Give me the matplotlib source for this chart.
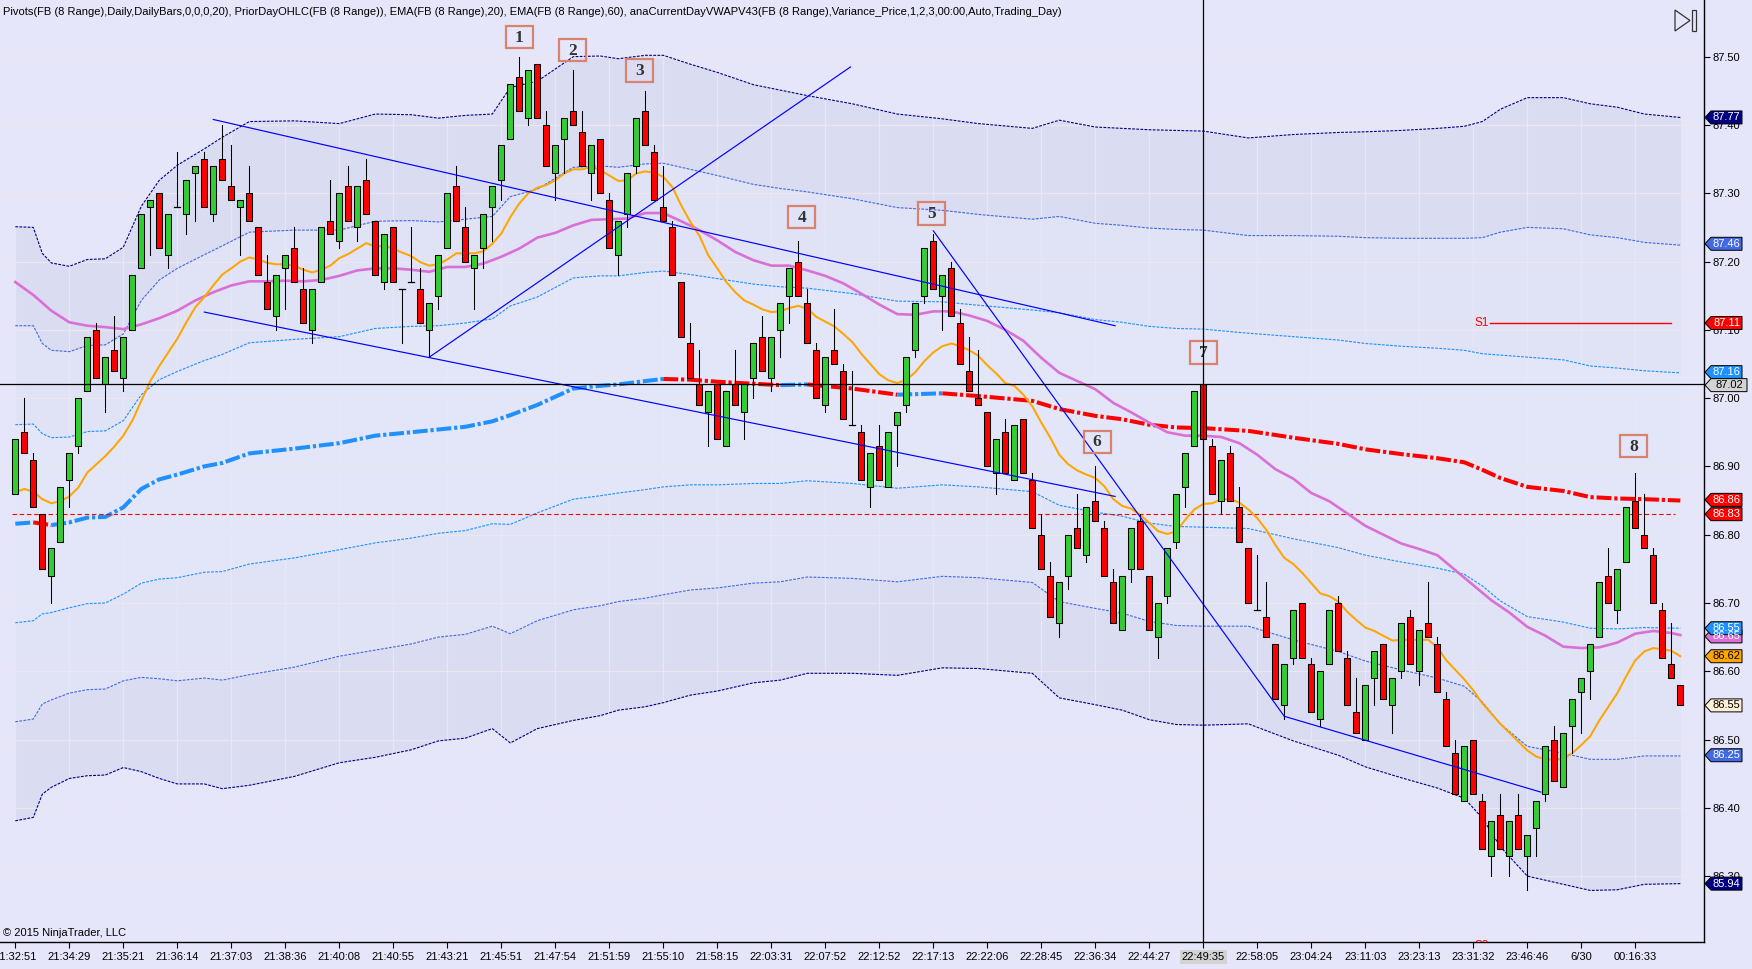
import matplotlib
matplotlib.use('Agg')
import matplotlib.pyplot as plt
from matplotlib.patches import Polygon, Rectangle
from matplotlib.transforms import blended_transform_factory

plt.rcParams['font.family'] = ['Liberation Sans', 'DejaVu Sans']

# ---- range bars (FB 8 Range) ----
OPEN = [86.86, 86.95, 86.91, 86.83, 86.74, 86.79, 86.88, 86.93, 87.01, 87.10,
        87.02, 87.07, 87.03, 87.10, 87.19, 87.28, 87.30, 87.21, 87.28, 87.27,
        87.33, 87.35, 87.27, 87.35, 87.31, 87.28, 87.30, 87.25, 87.17, 87.12,
        87.19, 87.22, 87.16, 87.10, 87.17, 87.26, 87.23, 87.31, 87.25, 87.32,
        87.26, 87.17, 87.25, 87.16, 87.17, 87.16, 87.10, 87.15, 87.22, 87.31,
        87.25, 87.19, 87.22, 87.28, 87.32, 87.38, 87.47, 87.41, 87.49, 87.40,
        87.33, 87.38, 87.42, 87.39, 87.33, 87.38, 87.29, 87.21, 87.27, 87.34,
        87.42, 87.36, 87.28, 87.25, 87.17, 87.08, 87.02, 86.98, 87.02, 86.93,
        87.02, 86.98, 87.03, 87.09, 87.03, 87.10, 87.15, 87.20, 87.14, 87.07,
        86.99, 87.07, 87.04, 86.96, 86.95, 86.87, 86.93, 86.87, 86.96, 86.99,
        87.07, 87.15, 87.23, 87.15, 87.19, 87.11, 87.04, 87.00, 86.98, 86.89,
        86.95, 86.88, 86.97, 86.88, 86.80, 86.74, 86.67, 86.74, 86.81, 86.77,
        86.85, 86.81, 86.73, 86.66, 86.75, 86.82, 86.74, 86.65, 86.71, 86.79,
        86.87, 86.93, 87.02, 86.93, 86.85, 86.92, 86.84, 86.78, 86.69, 86.68,
        86.64, 86.55, 86.62, 86.70, 86.61, 86.53, 86.61, 86.70, 86.62, 86.54,
        86.50, 86.59, 86.64, 86.55, 86.60, 86.68, 86.60, 86.67, 86.64, 86.56,
        86.48, 86.41, 86.50, 86.41, 86.33, 86.39, 86.33, 86.39, 86.33, 86.37,
        86.42, 86.50, 86.43, 86.52, 86.57, 86.60, 86.65, 86.74, 86.69, 86.76,
        86.85, 86.80, 86.77, 86.69, 86.61, 86.58]
HIGH = [86.94, 87.00, 86.92, 86.83, 86.78, 86.87, 86.92, 87.00, 87.09, 87.11,
        87.06, 87.12, 87.09, 87.18, 87.27, 87.29, 87.30, 87.27, 87.36, 87.32,
        87.34, 87.36, 87.34, 87.40, 87.37, 87.29, 87.34, 87.25, 87.21, 87.18,
        87.21, 87.25, 87.19, 87.16, 87.25, 87.32, 87.30, 87.34, 87.31, 87.35,
        87.26, 87.24, 87.25, 87.16, 87.25, 87.19, 87.14, 87.21, 87.30, 87.34,
        87.28, 87.21, 87.27, 87.31, 87.37, 87.46, 87.50, 87.48, 87.49, 87.42,
        87.37, 87.41, 87.48, 87.42, 87.37, 87.38, 87.30, 87.26, 87.33, 87.41,
        87.45, 87.37, 87.34, 87.26, 87.17, 87.11, 87.07, 87.01, 87.02, 87.01,
        87.07, 87.02, 87.08, 87.12, 87.09, 87.14, 87.19, 87.23, 87.16, 87.08,
        87.06, 87.13, 87.05, 87.04, 86.96, 86.92, 86.96, 86.95, 86.98, 87.06,
        87.14, 87.22, 87.24, 87.18, 87.20, 87.13, 87.09, 87.07, 86.98, 86.94,
        86.97, 86.96, 86.97, 86.89, 86.83, 86.76, 86.73, 86.80, 86.86, 86.84,
        86.90, 86.82, 86.75, 86.74, 86.81, 86.83, 86.74, 86.70, 86.78, 86.86,
        86.92, 87.01, 87.02, 86.94, 86.91, 86.93, 86.87, 86.78, 86.77, 86.73,
        86.64, 86.61, 86.69, 86.70, 86.62, 86.60, 86.69, 86.71, 86.63, 86.59,
        86.58, 86.63, 86.64, 86.59, 86.67, 86.69, 86.66, 86.73, 86.65, 86.57,
        86.50, 86.49, 86.50, 86.42, 86.38, 86.42, 86.38, 86.42, 86.36, 86.41,
        86.49, 86.52, 86.51, 86.56, 86.59, 86.64, 86.73, 86.78, 86.75, 86.84,
        86.89, 86.86, 86.78, 86.70, 86.67, 86.58]
LOW = [86.86, 86.92, 86.84, 86.75, 86.70, 86.79, 86.84, 86.92, 87.01, 87.03,
       86.98, 87.04, 87.01, 87.10, 87.19, 87.21, 87.22, 87.19, 87.28, 87.24,
       87.26, 87.28, 87.26, 87.32, 87.29, 87.21, 87.26, 87.18, 87.13, 87.10,
       87.13, 87.17, 87.11, 87.08, 87.17, 87.24, 87.22, 87.26, 87.23, 87.27,
       87.18, 87.16, 87.17, 87.08, 87.17, 87.11, 87.06, 87.13, 87.22, 87.26,
       87.20, 87.13, 87.19, 87.23, 87.29, 87.38, 87.42, 87.40, 87.41, 87.34,
       87.29, 87.33, 87.40, 87.34, 87.29, 87.30, 87.22, 87.18, 87.25, 87.33,
       87.37, 87.29, 87.26, 87.18, 87.09, 87.03, 86.99, 86.93, 86.94, 86.93,
       86.99, 86.94, 87.00, 87.04, 87.01, 87.06, 87.11, 87.15, 87.08, 87.00,
       86.98, 87.05, 86.97, 86.96, 86.88, 86.84, 86.88, 86.87, 86.90, 86.98,
       87.06, 87.14, 87.16, 87.10, 87.12, 87.05, 87.01, 86.99, 86.90, 86.86,
       86.89, 86.88, 86.89, 86.81, 86.75, 86.68, 86.65, 86.72, 86.78, 86.76,
       86.82, 86.74, 86.67, 86.66, 86.73, 86.75, 86.66, 86.62, 86.70, 86.78,
       86.84, 86.93, 86.94, 86.86, 86.83, 86.85, 86.79, 86.70, 86.69, 86.65,
       86.56, 86.53, 86.61, 86.62, 86.54, 86.52, 86.61, 86.63, 86.55, 86.51,
       86.50, 86.55, 86.56, 86.51, 86.59, 86.61, 86.58, 86.65, 86.57, 86.49,
       86.42, 86.41, 86.42, 86.34, 86.30, 86.34, 86.30, 86.34, 86.28, 86.33,
       86.41, 86.44, 86.43, 86.48, 86.51, 86.56, 86.65, 86.70, 86.67, 86.76,
       86.81, 86.78, 86.70, 86.62, 86.59, 86.55]
CLOSE = [86.94, 86.92, 86.84, 86.75, 86.78, 86.87, 86.92, 87.00, 87.09, 87.03,
         87.06, 87.04, 87.09, 87.18, 87.27, 87.29, 87.22, 87.27, 87.28, 87.32,
         87.34, 87.28, 87.34, 87.32, 87.29, 87.29, 87.26, 87.18, 87.13, 87.18,
         87.21, 87.17, 87.11, 87.16, 87.25, 87.24, 87.30, 87.26, 87.31, 87.27,
         87.18, 87.24, 87.17, 87.16, 87.17, 87.11, 87.14, 87.21, 87.30, 87.26,
         87.20, 87.21, 87.27, 87.31, 87.37, 87.46, 87.42, 87.48, 87.41, 87.34,
         87.37, 87.41, 87.40, 87.34, 87.37, 87.30, 87.22, 87.26, 87.33, 87.41,
         87.37, 87.29, 87.26, 87.18, 87.09, 87.03, 86.99, 87.01, 86.94, 87.01,
         86.99, 87.02, 87.08, 87.04, 87.09, 87.14, 87.19, 87.15, 87.08, 87.00,
         87.06, 87.05, 86.97, 86.96, 86.88, 86.92, 86.88, 86.95, 86.98, 87.06,
         87.14, 87.22, 87.16, 87.18, 87.12, 87.05, 87.01, 86.99, 86.90, 86.94,
         86.89, 86.96, 86.89, 86.81, 86.75, 86.68, 86.73, 86.80, 86.78, 86.84,
         86.82, 86.74, 86.67, 86.74, 86.81, 86.75, 86.66, 86.70, 86.78, 86.86,
         86.92, 87.01, 86.94, 86.86, 86.91, 86.85, 86.79, 86.70, 86.69, 86.65,
         86.56, 86.61, 86.69, 86.62, 86.54, 86.60, 86.69, 86.63, 86.55, 86.51,
         86.58, 86.63, 86.56, 86.59, 86.67, 86.61, 86.66, 86.65, 86.57, 86.49,
         86.42, 86.49, 86.42, 86.34, 86.38, 86.34, 86.38, 86.34, 86.36, 86.41,
         86.49, 86.44, 86.51, 86.56, 86.59, 86.64, 86.73, 86.70, 86.75, 86.84,
         86.81, 86.78, 86.70, 86.62, 86.59, 86.55]

# EMA(20), one value per bar
EMA20 = [86.862, 86.867, 86.863, 86.852, 86.846, 86.849, 86.856, 86.869, 86.891, 86.903,
         86.915, 86.929, 86.945, 86.967, 86.996, 87.025, 87.047, 87.067, 87.087, 87.111,
         87.133, 87.148, 87.165, 87.181, 87.190, 87.200, 87.206, 87.203, 87.198, 87.196,
         87.196, 87.194, 87.188, 87.184, 87.188, 87.194, 87.205, 87.211, 87.219, 87.227,
         87.222, 87.223, 87.219, 87.213, 87.208, 87.199, 87.194, 87.196, 87.203, 87.212,
         87.212, 87.212, 87.215, 87.226, 87.241, 87.265, 87.285, 87.300, 87.308, 87.312,
         87.319, 87.329, 87.335, 87.335, 87.339, 87.334, 87.326, 87.318, 87.319, 87.329,
         87.332, 87.330, 87.324, 87.309, 87.282, 87.258, 87.238, 87.209, 87.190, 87.170,
         87.155, 87.143, 87.137, 87.130, 87.126, 87.127, 87.132, 87.135, 87.131, 87.119,
         87.112, 87.105, 87.094, 87.082, 87.065, 87.050, 87.035, 87.026, 87.022, 87.027,
         87.038, 87.054, 87.067, 87.076, 87.080, 87.076, 87.070, 87.062, 87.048, 87.036,
         87.022, 87.018, 87.005, 86.988, 86.964, 86.942, 86.917, 86.903, 86.894, 86.888,
         86.883, 86.871, 86.852, 86.842, 86.838, 86.829, 86.817, 86.805, 86.801, 86.805,
         86.822, 86.837, 86.845, 86.846, 86.852, 86.852, 86.847, 86.837, 86.824, 86.807,
         86.785, 86.766, 86.757, 86.744, 86.729, 86.714, 86.710, 86.702, 86.687, 86.675,
         86.664, 86.659, 86.652, 86.645, 86.646, 86.646, 86.646, 86.646, 86.635, 86.616,
         86.602, 86.588, 86.572, 86.553, 86.538, 86.523, 86.510, 86.497, 86.484, 86.475,
         86.471, 86.470, 86.472, 86.480, 86.492, 86.505, 86.528, 86.548, 86.568, 86.593,
         86.616, 86.629, 86.634, 86.632, 86.630, 86.622]

# EMA(60), read every second bar
EMA60_BARS = list(range(0, 185, 2)) + [185]
EMA60 = [87.170, 87.151, 87.128, 87.111, 87.106, 87.104, 87.101, 87.108, 87.117, 87.128,
         87.143, 87.155, 87.165, 87.171, 87.171, 87.172, 87.171, 87.173, 87.179, 87.187,
         87.190, 87.190, 87.188, 87.185, 87.192, 87.192, 87.197, 87.207, 87.219, 87.235,
         87.242, 87.253, 87.261, 87.262, 87.263, 87.271, 87.271, 87.259, 87.246, 87.231,
         87.214, 87.202, 87.194, 87.194, 87.187, 87.179, 87.168, 87.153, 87.137, 87.123,
         87.122, 87.127, 87.127, 87.121, 87.113, 87.100, 87.084, 87.059, 87.037, 87.025,
         87.013, 86.993, 86.979, 86.964, 86.950, 86.945, 86.945, 86.943, 86.934, 86.917,
         86.896, 86.882, 86.861, 86.849, 86.831, 86.813, 86.800, 86.787, 86.779, 86.770,
         86.748, 86.726, 86.704, 86.686, 86.665, 86.652, 86.636, 86.634, 86.635, 86.642,
         86.655, 86.659, 86.656, 86.653]

# current-day VWAP and its band width (1 sigma), read at these bars
BAND_BARS = [0, 2, 3, 4, 6, 8, 10, 12, 14, 16, 18, 21, 23, 26, 31, 36, 40, 44, 47, 50,
             53, 55, 58, 62, 65, 67, 70, 72, 75, 78, 82, 85, 88, 93, 98, 103, 107, 113, 116, 120,
             123, 126, 129, 132, 137, 140, 142, 147, 150, 154, 158, 161, 163, 165, 168, 172, 175, 178, 181, 185]
VWAP = [86.816, 86.818, 86.816, 86.814, 86.818, 86.825, 86.826, 86.840, 86.867, 86.881,
        86.888, 86.900, 86.905, 86.919, 86.926, 86.934, 86.945, 86.950, 86.954, 86.958,
        86.966, 86.975, 86.990, 87.014, 87.018, 87.020, 87.025, 87.028, 87.027, 87.024,
        87.021, 87.019, 87.020, 87.014, 87.005, 87.007, 87.003, 86.996, 86.984, 86.974,
        86.969, 86.961, 86.957, 86.956, 86.952, 86.946, 86.942, 86.933, 86.925, 86.918,
        86.912, 86.906, 86.895, 86.883, 86.870, 86.864, 86.855, 86.853, 86.852, 86.850]
SIGMA = [0.145, 0.144, 0.132, 0.128, 0.125, 0.126, 0.126, 0.127, 0.138, 0.146,
         0.151, 0.155, 0.159, 0.162, 0.160, 0.156, 0.157, 0.155, 0.152, 0.152,
         0.150, 0.160, 0.158, 0.162, 0.161, 0.159, 0.159, 0.158, 0.154, 0.151,
         0.146, 0.144, 0.141, 0.139, 0.137, 0.134, 0.133, 0.133, 0.141, 0.141,
         0.142, 0.144, 0.145, 0.145, 0.143, 0.146, 0.148, 0.152, 0.155, 0.158,
         0.161, 0.164, 0.170, 0.180, 0.190, 0.192, 0.192, 0.191, 0.188, 0.187]

PRIOR_CLOSE = 86.83
S1 = 87.11
S2 = 86.197
CROSS_BAR, CROSS_PRICE = 132, 87.02

# hand-drawn trend lines: (bar, price) -> (bar, price)
TRENDLINES = [((22, 87.408), (122.2, 87.106)),
              ((21, 87.126), (122.2, 86.856)),
              ((46, 87.060), (92.8, 87.485)),
              ((102, 87.245), (141, 86.534)),
              ((141, 86.534), (169.5, 86.423))]
MARKERS = [('1', 56.0, 87.529), ('2', 61.9, 87.510), ('3', 69.4, 87.480), ('4', 87.4, 87.265),
           ('5', 101.8, 87.270), ('6', 120.2, 86.936), ('7', 132.0, 87.067), ('8', 179.8, 86.930)]

TIME_LABELS = ['21:32:51', '21:34:29', '21:35:21', '21:36:14', '21:37:03', '21:38:36', '21:40:08',
               '21:40:55', '21:43:21', '21:45:51', '21:47:54', '21:51:59', '21:55:10', '21:58:15',
               '22:03:31', '22:07:52', '22:12:52', '22:17:13', '22:22:06', '22:28:45', '22:36:34',
               '22:44:27', '22:49:35', '22:58:05', '23:04:24', '23:11:03', '23:23:13', '23:31:32',
               '23:46:46', '6/30', '00:16:33']
TIME_BARS = list(range(0, 181, 6))
PRICE_TICKS = [86.30, 86.40, 86.50, 86.60, 86.70, 86.80, 86.90, 87.00, 87.10, 87.20, 87.30, 87.40, 87.50]

# right-axis value tags: (position, text, fill, text colour)
TAGS = [(87.411, '87.77', '#000080', 'white'),
        (87.226, '87.46', '#4169E1', 'white'),
        (87.110, '87.11', '#FF0000', 'white'),
        (87.038, '87.16', '#1E90FF', 'white'),
        (87.019, '87.02', '#D3D3D3', 'black'),
        (86.851, '86.86', '#FF0000', 'white'),
        (86.830, '86.83', '#FF0000', 'white'),
        (86.651, '86.65', '#DA70D6', 'white'),
        (86.663, '86.55', '#1E90FF', 'white'),
        (86.622, '86.62', '#FFA500', 'black'),
        (86.550, '86.55', '#FFEFD5', 'black'),
        (86.477, '86.25', '#4169E1', 'white'),
        (86.289, '85.94', '#000080', 'white')]

TITLE = ('Pivots(FB (8 Range),Daily,DailyBars,0,0,0,20), PriorDayOHLC(FB (8 Range)), '
         'EMA(FB (8 Range),20), EMA(FB (8 Range),60), '
         'anaCurrentDayVWAPV43(FB (8 Range),Variance_Price,1,2,3,00:00,Auto,Trading_Day)')

BG = '#E6E6FA'
GREEN, RED = '#32CD32', '#FF0000'

fig = plt.figure(figsize=(17.52, 9.69), dpi=100, facecolor=BG)
ax = fig.add_axes([0, 27 / 969, 1704 / 1752, 942 / 969])
ax.set_facecolor(BG)
ax.set_xlim(-1.7, 187.63)
ax.set_ylim(86.2035, 87.583)

# faint grid
for b in TIME_BARS:
    ax.axvline(b, color='#EAE7EE', lw=0.9, zorder=1)
for p in PRICE_TICKS:
    ax.axhline(p, color='#EAE7EE', lw=0.9, zorder=1)

# VWAP bands
up = [[v + k * s for v, s in zip(VWAP, SIGMA)] for k in (1, 2, 3)]
dn = [[v - k * s for v, s in zip(VWAP, SIGMA)] for k in (1, 2, 3)]
ax.fill_between(BAND_BARS, dn[0], up[0], color='#E2E6F8', lw=0, zorder=0.6)
ax.fill_between(BAND_BARS, up[0], up[1], color='#E0E2F6', lw=0, zorder=0.6)
ax.fill_between(BAND_BARS, dn[1], dn[0], color='#E0E2F6', lw=0, zorder=0.6)
ax.fill_between(BAND_BARS, up[1], up[2], color='#DADCF2', lw=0, zorder=0.6)
ax.fill_between(BAND_BARS, dn[2], dn[1], color='#DADCF2', lw=0, zorder=0.6)
band_cols = ['#1E90FF', '#4169E1', '#000080']
for k in range(3):
    for line in (up[k], dn[k]):
        ax.plot(BAND_BARS, line, color=band_cols[k], lw=0.8, ls=(0, (2.5, 1.2)), zorder=2)

# VWAP: blue while rising, red while falling
runs = []
for i in range(len(BAND_BARS) - 1):
    col = '#1E90FF' if VWAP[i + 1] > VWAP[i] else '#FF0000'
    if runs and runs[-1][0] == col:
        runs[-1][1].append(i + 1)
    else:
        runs.append([col, [i, i + 1]])
for col, idx in runs:
    ax.plot([BAND_BARS[j] for j in idx], [VWAP[j] for j in idx], color=col, lw=2.9,
            ls=(0, (3.7, 0.7, 0.8, 0.7)), solid_capstyle='butt', zorder=3)

# prior day close and pivots
ax.plot([-0.4, 184.4], [PRIOR_CLOSE, PRIOR_CLOSE], color='#FF0000', lw=0.8, ls=(0, (4, 2.5)), zorder=3)
ax.plot([163.9, 184.0], [S1, S1], color='#FF0000', lw=1.0, zorder=3)
ax.text(162.9, S1, 'S1', color='#FF0000', fontsize=8.5, ha='center', va='center', zorder=3)
ax.text(162.9, S2, 'S2', color='#FF0000', fontsize=8.5, ha='center', va='center', zorder=3, clip_on=True)

# EMAs
ax.plot(EMA60_BARS, EMA60, color='#DA70D6', lw=1.9, zorder=4)
ax.plot(range(len(EMA20)), EMA20, color='#FFA500', lw=1.45, zorder=4)

# candles
for i, (o, h, l, c) in enumerate(zip(OPEN, HIGH, LOW, CLOSE)):
    ax.plot([i, i], [l, h], color='black', lw=0.75, zorder=5)
    if abs(c - o) < 1e-9:
        ax.plot([i - 0.34, i + 0.34], [o, o], color='black', lw=0.9, zorder=5.5)
    else:
        ax.add_patch(Rectangle((i - 0.34, min(o, c)), 0.68, abs(c - o),
                               facecolor=GREEN if c > o else RED, edgecolor='black',
                               lw=0.75, zorder=5.5))

# trend lines and numbered markers
for (x0, y0), (x1, y1) in TRENDLINES:
    ax.plot([x0, x1], [y0, y1], color='#0000FF', lw=0.85, zorder=6)
for txt, b, p in MARKERS:
    ax.add_patch(Rectangle((b - 1.5, p - 0.0165), 3.0, 0.033, facecolor='none',
                           edgecolor='#D9826F', lw=1.6, zorder=7))
    ax.text(b, p - 0.001, txt, family=['Liberation Serif', 'DejaVu Serif'], fontweight='bold',
            fontsize=12.5, color='#333333', ha='center', va='center', zorder=7)

# crosshair
ax.axvline(CROSS_BAR, color='black', lw=0.9, zorder=8)
ax.axhline(CROSS_PRICE, color='black', lw=0.9, zorder=8)

# axes styling
for side in ('left', 'top'):
    ax.spines[side].set_visible(False)
for side in ('right', 'bottom'):
    ax.spines[side].set_color('black')
    ax.spines[side].set_linewidth(1.0)
ax.yaxis.tick_right()
ax.set_yticks(PRICE_TICKS)
ax.set_yticklabels([f'{p:.2f}' for p in PRICE_TICKS])
ax.set_xticks(TIME_BARS)
ax.set_xticklabels(TIME_LABELS)
ax.tick_params(axis='y', direction='out', length=4.5, width=0.8, pad=1.5, labelsize=8, colors='black')
ax.tick_params(axis='x', direction='out', length=4.5, width=0.8, pad=2.5, labelsize=8, colors='black')
ax.get_xticklabels()[TIME_LABELS.index('22:49:35')].set_bbox(
    dict(facecolor='#D3D3D3', edgecolor='none', pad=1.5))

# value tags on the price axis
trans = blended_transform_factory(ax.transAxes, ax.transData)
px = 1 / 1704
h = 6.5 / 683
for p, txt, fc, tc in TAGS:
    w = 43 if txt == '87.02' else 38
    pts = [(1 + 1 * px, p), (1 + 7 * px, p + h), (1 + w * px, p + h),
           (1 + w * px, p - h), (1 + 7 * px, p - h)]
    ax.add_patch(Polygon(pts, closed=True, transform=trans, facecolor=fc, edgecolor='black',
                         lw=0.7, clip_on=False, zorder=10))
    ax.text(1 + (7 + w) / 2 * px, p, txt, transform=trans, color=tc, fontsize=8,
            ha='center', va='center', clip_on=False, zorder=11)

# play-to-end icon at top right
icon_t = ax.transAxes
def fy(y):
    return 1 - y / 942
ax.add_patch(Polygon([(1675 * px, fy(10)), (1690 * px, fy(20.5)), (1675 * px, fy(31))], closed=True,
                     facecolor='none', edgecolor='#333333', lw=0.9, transform=icon_t, clip_on=False, zorder=10))
ax.add_patch(Rectangle((1692 * px, fy(31)), 4 * px, fy(10) - fy(31), facecolor='none',
                       edgecolor='#333333', lw=0.9, transform=icon_t, clip_on=False, zorder=10))

fig.text(3 / 1752, 1 - 12 / 969, TITLE, fontsize=8, ha='left', va='center')
fig.text(3 / 1752, 1 - 933 / 969, '\u00a9 2015 NinjaTrader, LLC', fontsize=8, ha='left', va='center')

fig.savefig('out.png', dpi=100, facecolor=BG)
